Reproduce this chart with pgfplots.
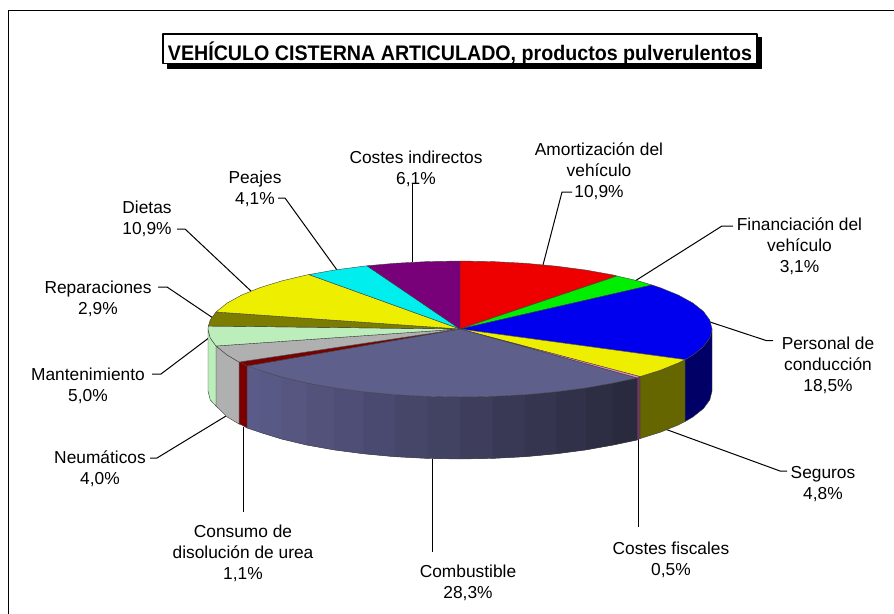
\documentclass[border=0pt]{standalone}
\usepackage{fontspec}
\setmainfont{Liberation Sans}
\newfontfamily\titlefont[FakeStretch=0.933]{Liberation Sans}
\usepackage{pgfplots}
\pgfplotsset{compat=1.18}

\definecolor{cred}{HTML}{EE0000}
\definecolor{cgreen}{HTML}{00EE00}
\definecolor{cblue}{HTML}{0000EE}
\definecolor{cyell}{HTML}{EEEE00}
\definecolor{cpink}{HTML}{EE88BB}
\definecolor{ccomb}{HTML}{5F5F8C}
\definecolor{cdred}{HTML}{7A0000}
\definecolor{cgrey}{HTML}{B0B0B0}
\definecolor{clgreen}{HTML}{BBEEBB}
\definecolor{colive}{HTML}{7C7C00}
\definecolor{ccyan}{HTML}{00EEEE}
\definecolor{cpurple}{HTML}{780078}
\definecolor{snavy}{HTML}{000066}
\definecolor{solive}{HTML}{666600}
\definecolor{spink}{HTML}{6A3A58}
\definecolor{edge}{HTML}{404040}

% one flat band of the shaded side of the Combustible slice, overlapping the next one
\newcommand{\band}[3]{\addplot[fill={rgb,255:red,#1;green,#1;blue,#2},draw=none] coordinates {#3} -- cycle;}
\newcommand{\lab}[3]{\node[align=center,font=\fontsize{13}{15.8}\selectfont] at (axis cs:#1,#2) {#3};}

\begin{document}
\begin{tikzpicture}
\begin{axis}[
    scale only axis,
    width=670.5pt, height=460.5pt,
    xmin=0, xmax=894, ymin=0, ymax=614,
    y dir=reverse,
    axis lines=none,
    no markers,
    every axis plot/.append style={line join=round},
]
\addplot[fill=white,draw=none] coordinates {(0,0) (894,0) (894,614) (0,614)} -- cycle;
% chart frame: only left and top are inside the picture
\addplot[black,line width=1.3pt] coordinates {(8.5,614) (8.5,10.5) (894,10.5)};

% title box with shadow
\addplot[fill=black,draw=black] coordinates {(167,37) (761,37) (761,68) (167,68)} -- cycle;
\addplot[fill=white,draw=black,line width=.9pt] coordinates {(163,34) (757,34) (757,63.5) (163,63.5)} -- cycle;
\node[font=\titlefont\fontsize{15.8}{18}\selectfont\bfseries] at (axis cs:460,53) {VEHÍCULO CISTERNA ARTICULADO, productos pulverulentos};

% leader lines
\addplot[black,line width=.75pt] coordinates {(412,262) (412,183)};
\addplot[black,line width=.75pt] coordinates {(543,265) (562,192) (572,192)};
\addplot[black,line width=.75pt] coordinates {(635,281) (722,226) (733,226)};
\addplot[black,line width=.75pt] coordinates {(710,322) (766,340.5) (773,340.5)};
\addplot[black,line width=.75pt] coordinates {(665,429) (780,471) (787,471)};
\addplot[black,line width=.75pt] coordinates {(638,438) (638,527)};
\addplot[black,line width=.75pt] coordinates {(432,459) (432,552)};
\addplot[black,line width=.75pt] coordinates {(243,427) (243,512)};
\addplot[black,line width=.75pt] coordinates {(226,416) (157,458) (150,458)};
\addplot[black,line width=.75pt] coordinates {(210,337) (161,374) (152,374)};
\addplot[black,line width=.75pt] coordinates {(213,318) (167,287) (158,287)};
\addplot[black,line width=.75pt] coordinates {(252,292) (185,229) (177,229)};
\addplot[black,line width=.75pt] coordinates {(337,270) (285,198) (278,198)};

% side faces
\addplot[fill=snavy,draw=edge,line width=.3pt] coordinates {(712,329) (709.8,337.9) (703.4,346.6) (692.8,355) (685,359.6) (685,421.6) (692.8,417) (703.4,408.6) (709.8,399.9) (712,391)} -- cycle;
\addplot[fill=solive,draw=edge,line width=.3pt] coordinates {(685,359.6) (678.2,363) (659.9,370.4) (640,376.6) (640,438.6) (659.9,432.4) (678.2,425) (685,421.6)} -- cycle;
\addplot[fill=spink,draw=edge,line width=.3pt] coordinates {(640,376.6) (637,378) (637,440) (640,438.6)} -- cycle;
\band{91}{137}{(247,366) (260.1,370.4) (281.8,377.1) (281.8,439.1) (260.1,432.4) (247,428)}
\band{89}{133}{(260.1,370.4) (281.8,377.1) (306.6,383) (306.6,445) (281.8,439.1) (260.1,432.4)}
\band{86}{129}{(281.8,377.1) (306.6,383) (334,387.9) (334,449.9) (306.6,445) (281.8,439.1)}
\band{82}{123}{(306.6,383) (334,387.9) (363.6,391.8) (363.6,453.8) (334,449.9) (306.6,445)}
\band{78}{118}{(334,387.9) (363.6,391.8) (394.8,394.7) (394.8,456.7) (363.6,453.8) (334,449.9)}
\band{74}{112}{(363.6,391.8) (394.8,394.7) (427.1,396.4) (427.1,458.4) (394.8,456.7) (363.6,453.8)}
\band{70}{105}{(394.8,394.7) (427.1,396.4) (460,397) (460,459) (427.1,458.4) (394.8,456.7)}
\band{66}{99}{(427.1,396.4) (460,397) (492.9,396.4) (492.9,458.4) (460,459) (427.1,458.4)}
\band{62}{92}{(460,397) (492.9,396.4) (525.2,394.7) (525.2,456.7) (492.9,458.4) (460,459)}
\band{57}{86}{(492.9,396.4) (525.2,394.7) (556.4,391.8) (556.4,453.8) (525.2,456.7) (492.9,458.4)}
\band{53}{79}{(525.2,394.7) (556.4,391.8) (586,387.9) (586,449.9) (556.4,453.8) (525.2,456.7)}
\band{49}{73}{(556.4,391.8) (586,387.9) (613.4,383) (613.4,445) (586,449.9) (556.4,453.8)}
\band{45}{67}{(586,387.9) (613.4,383) (637,378) (637,440) (613.4,445) (586,449.9)}
\band{42}{62}{(613.4,383) (637,378) (637,440) (613.4,445)}
\addplot[fill=cdred,draw=edge,line width=.3pt] coordinates {(247,366) (241.8,363) (239,362) (239,424) (241.8,425) (247,428)} -- cycle;
\addplot[fill=cgrey,draw=edge,line width=.3pt] coordinates {(239,362) (227.2,355) (216,346) (216,406) (227.2,417) (239,424)} -- cycle;
\addplot[fill=clgreen,draw=edge,line width=.3pt] coordinates {(216,346) (210.2,337.9) (208,329) (208,391) (210.2,399.9) (216,406)} -- cycle;
% soft outline of the bottom rim
\addplot[edge,line width=.3pt] coordinates {(247,428) (260.1,432.4) (281.8,439.1) (306.6,445) (334,449.9) (363.6,453.8) (394.8,456.7) (427.1,458.4) (460,459) (492.9,458.4) (525.2,456.7) (556.4,453.8) (586,449.9) (613.4,445) (637,440)};

% top faces, clockwise from 12 o'clock
\addplot[fill=cred,draw=edge,line width=.3pt] coordinates {(460,329) (460,261) (492.9,261.6) (525.2,263.3) (556.4,266.2) (586,270.1) (613.4,275) (617,276)} -- cycle; % 10,9
\addplot[fill=cgreen,draw=edge,line width=.3pt] coordinates {(460,329) (617,276) (638.2,280.9) (652,285)} -- cycle; % 3,1
\addplot[fill=cblue,draw=edge,line width=.3pt] coordinates {(460,329) (652,285) (659.9,287.6) (678.2,295) (692.8,303) (703.4,311.4) (709.8,320.1) (712,329) (709.8,337.9) (703.4,346.6) (692.8,355) (685,359.6)} -- cycle; % 18,5
\addplot[fill=cyell,draw=edge,line width=.3pt] coordinates {(460,329) (685,359.6) (678.2,363) (659.9,370.4) (640,376.6)} -- cycle; % 4,8
\addplot[fill=cpink,draw=edge,line width=.3pt] coordinates {(460,329) (640,376.6) (637,378)} -- cycle; % 0,5
\addplot[fill=ccomb,draw=edge,line width=.3pt] coordinates {(460,329) (637,378) (613.4,383) (586,387.9) (556.4,391.8) (525.2,394.7) (492.9,396.4) (460,397) (427.1,396.4) (394.8,394.7) (363.6,391.8) (334,387.9) (306.6,383) (281.8,377.1) (260.1,370.4) (247,366)} -- cycle; % 28,3
\addplot[fill=cdred,draw=edge,line width=.3pt] coordinates {(460,329) (247,366) (241.8,363) (239,362)} -- cycle; % 1,1
\addplot[fill=cgrey,draw=edge,line width=.3pt] coordinates {(460,329) (239,362) (227.2,355) (216,346)} -- cycle; % 4,0
\addplot[fill=clgreen,draw=edge,line width=.3pt] coordinates {(460,329) (216,346) (210.2,337.9) (208,329) (208.4,326)} -- cycle; % 5,0
\addplot[fill=colive,draw=edge,line width=.3pt] coordinates {(460,329) (208.4,326) (210.2,320.1) (216,312)} -- cycle; % 2,9
\addplot[fill=cyell,draw=edge,line width=.3pt] coordinates {(460,329) (216,312) (227.2,303) (241.8,295) (260.1,287.6) (281.8,280.9) (306.6,275) (309,274.6)} -- cycle; % 10,9
\addplot[fill=ccyan,draw=edge,line width=.3pt] coordinates {(460,329) (309,274.6) (334,270.1) (363.6,266.2) (367,265.8)} -- cycle; % 4,1
\addplot[fill=cpurple,draw=edge,line width=.3pt] coordinates {(460,329) (367,265.8) (394.8,263.3) (427.1,261.6) (460,261)} -- cycle; % 6,1

% labels
\lab{416}{168.5}{Costes indirectos\\6,1\%}
\lab{599}{171}{Amortización del\\vehículo\\10,9\%}
\lab{799.5}{246}{Financiación del\\vehículo\\3,1\%}
\lab{828}{365}{Personal de\\conducción\\18,5\%}
\lab{823}{484.5}{Seguros\\4,8\%}
\lab{671}{559.5}{Costes fiscales\\0,5\%}
\lab{468}{583}{Combustible\\28,3\%}
\lab{243}{553}{Consumo de\\disolución de urea\\1,1\%}
\lab{100}{469}{Neumáticos\\4,0\%}
\lab{88}{386}{Mantenimiento\\5,0\%}
\lab{98}{299}{Reparaciones\\2,9\%}
\lab{147}{219}{Dietas\\10,9\%}
\lab{255}{188.5}{Peajes\\4,1\%}
\end{axis}
\end{tikzpicture}
\end{document}
